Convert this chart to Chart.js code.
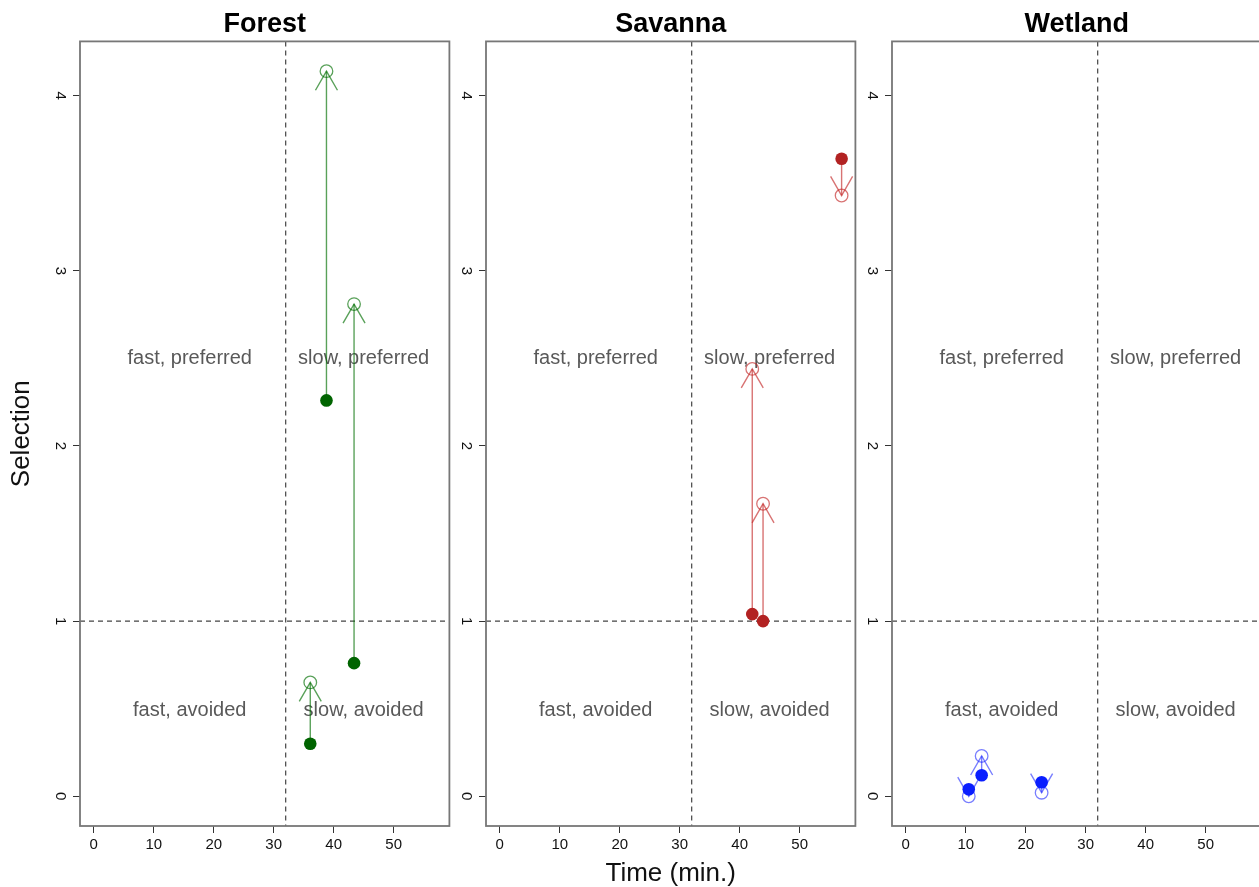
<!DOCTYPE html>
<html>
<head>
<meta charset="utf-8">
<script src="https://cdn.jsdelivr.net/npm/chart.js@4"></script>
<style>
  html, body { margin: 0; padding: 0; background: #fff; overflow: hidden; }
  body { width: 1259px; height: 887px; position: relative; }
  canvas { position: absolute; top: 0; }
</style>
</head>
<body>
<canvas id="forest" width="457" height="887" style="left:0px"></canvas>
<canvas id="savanna" width="413" height="887" style="left:450px"></canvas>
<canvas id="wetland" width="413" height="887" style="left:856px"></canvas>
<script>
// axes
const xTicks = [0, 10, 20, 30, 40, 50];
const yTicks = [0, 1, 2, 3, 4];
const xLimits = [-2.3, 59.3];
const yLimits = [-0.17, 4.31];
const splitTime = 32;
const splitSelection = 1;

// quadrant labels
const quadLabels = ['fast, preferred', 'slow, preferred', 'fast, avoided', 'slow, avoided'];
const quadX = [16, 45, 16, 45];
const quadY = [2.5, 2.5, 0.49, 0.49];

// selection before (filled) and after (open) per habitat
const forestTime = [38.8, 43.4, 36.1];
const forestBefore = [2.26, 0.76, 0.30];
const forestAfter = [4.14, 2.81, 0.65];

const savannaTime = [57.0, 42.1, 43.9];
const savannaBefore = [3.64, 1.04, 1.00];
const savannaAfter = [3.43, 2.44, 1.67];

const wetlandTime = [10.5, 12.65, 22.65];
const wetlandBefore = [0.04, 0.12, 0.08];
const wetlandAfter = [0.00, 0.23, 0.02];

const FONT = '"Liberation Sans", Arial, Helvetica, sans-serif';

// dashed split lines, quadrant text, arrow heads, box frame
const panelPlugin = {
  id: 'panel',
  beforeDatasetsDraw(chart) {
    const {ctx, chartArea: a, scales: {x, y}} = chart;
    ctx.save();
    ctx.strokeStyle = '#444';
    ctx.lineWidth = 1.2;
    ctx.setLineDash([5, 4]);
    const px = x.getPixelForValue(splitTime);
    const py = y.getPixelForValue(splitSelection);
    ctx.beginPath();
    ctx.moveTo(px, a.top); ctx.lineTo(px, a.bottom);
    ctx.moveTo(a.left, py); ctx.lineTo(a.right, py);
    ctx.stroke();
    ctx.setLineDash([]);
    ctx.fillStyle = '#595959';
    ctx.font = '20px ' + FONT;
    ctx.textAlign = 'center';
    ctx.textBaseline = 'middle';
    quadLabels.forEach((t, i) => {
      ctx.fillText(t, x.getPixelForValue(quadX[i]), y.getPixelForValue(quadY[i]));
    });
    ctx.restore();
  },
  afterDatasetDraw(chart, args) {
    const ds = chart.data.datasets[args.index];
    if (!ds.isArrow) return;
    const pts = args.meta.data;
    const p0 = pts[0], p1 = pts[1];
    const ang = Math.atan2(p1.y - p0.y, p1.x - p0.x);
    const len = 22, spread = Math.PI / 6;
    const ctx = chart.ctx;
    ctx.save();
    ctx.strokeStyle = ds.borderColor;
    ctx.lineWidth = ds.borderWidth;
    ctx.beginPath();
    ctx.moveTo(p1.x + len * Math.cos(ang + Math.PI - spread), p1.y + len * Math.sin(ang + Math.PI - spread));
    ctx.lineTo(p1.x, p1.y);
    ctx.lineTo(p1.x + len * Math.cos(ang + Math.PI + spread), p1.y + len * Math.sin(ang + Math.PI + spread));
    ctx.stroke();
    ctx.restore();
  },
  afterDraw(chart) {
    const {ctx, chartArea: a} = chart;
    ctx.save();
    ctx.strokeStyle = '#777';
    ctx.lineWidth = 1.8;
    ctx.strokeRect(a.left, a.top, a.right - a.left, a.bottom - a.top);
    ctx.restore();
  }
};

function makePanel(id, title, times, before, after, dark, light, opts) {
  const datasets = [
    {
      label: 'before',
      data: times.map((t, i) => ({x: t, y: before[i]})),
      pointRadius: 6.3,
      pointBackgroundColor: dark,
      pointBorderWidth: 0,
      showLine: false
    },
    {
      label: 'after',
      data: times.map((t, i) => ({x: t, y: after[i]})),
      pointRadius: 6.3,
      pointBackgroundColor: 'rgba(0,0,0,0)',
      pointBorderColor: light,
      pointBorderWidth: 1.3,
      showLine: false
    }
  ];
  times.forEach((t, i) => {
    datasets.push({
      label: 'arrow',
      isArrow: true,
      data: [{x: t, y: before[i]}, {x: t, y: after[i]}],
      showLine: true,
      pointRadius: 0,
      borderColor: light,
      borderWidth: 1.4
    });
  });

  return new Chart(document.getElementById(id), {
    type: 'scatter',
    data: {datasets},
    plugins: [panelPlugin],
    options: {
      responsive: false,
      animation: false,
      layout: {padding: {left: 0, right: 2, top: 0, bottom: 0}},
      plugins: {
        legend: {display: false},
        tooltip: {enabled: false},
        title: {
          display: true,
          fullSize: false,
          text: title,
          color: '#000',
          font: {family: FONT, size: 27, weight: 'bold'},
          padding: {top: 8, bottom: 1}
        }
      },
      scales: {
        x: {
          type: 'linear',
          min: xLimits[0],
          max: xLimits[1],
          afterBuildTicks: s => { s.ticks = xTicks.map(v => ({value: v})); },
          afterFit: s => { s.height = 61; },
          grid: {drawOnChartArea: false, drawTicks: true, tickLength: 7, color: '#333'},
          border: {display: false},
          ticks: {color: '#111', font: {family: FONT, size: 15}, padding: 3, maxRotation: 0},
          title: {
            display: !!opts.xTitle,
            text: opts.xTitle || '',
            color: '#111',
            font: {family: FONT, size: 26, lineHeight: 1},
            padding: {top: 0, bottom: 0}
          }
        },
        y: {
          type: 'linear',
          min: yLimits[0],
          max: yLimits[1],
          afterBuildTicks: s => { s.ticks = yTicks.map(v => ({value: v})); },
          afterFit: s => { s.width = opts.yWidth; },
          grid: {drawOnChartArea: false, drawTicks: true, tickLength: 7, color: '#333'},
          border: {display: false},
          ticks: {color: '#111', font: {family: FONT, size: 15}, padding: 9,
                  minRotation: -90, maxRotation: -90, crossAlign: 'center'},
          title: {
            display: !!opts.yTitle,
            text: opts.yTitle || '',
            color: '#111',
            font: {family: FONT, size: 26},
            padding: {top: 6, bottom: 0}
          }
        }
      }
    }
  });
}

makePanel('forest', 'Forest', forestTime, forestBefore, forestAfter,
  '#006400', 'rgba(0,110,0,0.65)', {yWidth: 80, yTitle: 'Selection'});
makePanel('savanna', 'Savanna', savannaTime, savannaBefore, savannaAfter,
  '#b22222', 'rgba(195,40,40,0.65)', {yWidth: 36, xTitle: 'Time (min.)'});
makePanel('wetland', 'Wetland', wetlandTime, wetlandBefore, wetlandAfter,
  '#0a1eff', 'rgba(30,40,255,0.6)', {yWidth: 36});
</script>
</body>
</html>
